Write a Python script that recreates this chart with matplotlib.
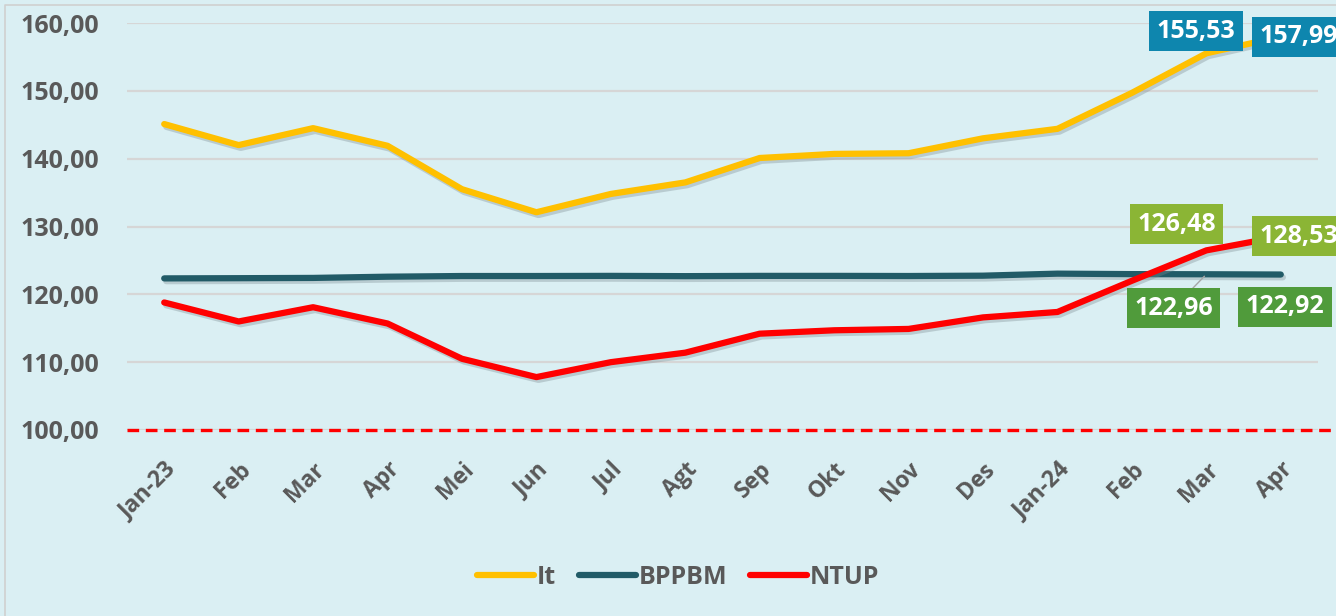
import matplotlib
matplotlib.use("Agg")
import matplotlib.pyplot as plt
import matplotlib.patheffects as pe
from matplotlib.lines import Line2D

months = ["Jan-23", "Feb", "Mar", "Apr", "Mei", "Jun", "Jul", "Agt", "Sep",
          "Okt", "Nov", "Des", "Jan-24", "Feb", "Mar", "Apr"]
it_vals = [145.1, 142.0, 144.5, 141.9, 135.5, 132.1, 134.8, 136.5, 140.1,
           140.7, 140.8, 143.0, 144.4, 149.7, 155.53, 157.99]
bppbm_vals = [122.35, 122.38, 122.42, 122.6, 122.7, 122.7, 122.72, 122.68, 122.72,
              122.72, 122.7, 122.75, 123.05, 122.98, 122.96, 122.92]
ntup_vals = [118.8, 116.0, 118.1, 115.7, 110.5, 107.8, 110.0, 111.4, 114.2,
             114.7, 114.9, 116.6, 117.4, 122.0, 126.48, 128.53]
yticks = [100, 110, 120, 130, 140, 150, 160]

BG = "#DAEFF3"
GRAY = "#595959"
FONT = "Open Sans"

fig = plt.figure(figsize=(13.36, 6.16), dpi=100, facecolor=BG)
ax = fig.add_axes([127/1336, 1-430/616, (1318-127)/1336, (430-23)/616])
ax.set_facecolor(BG)

x = list(range(len(months)))
shadow = [pe.SimpleLineShadow(offset=(1.5, -2), shadow_color="#7a8a90", alpha=0.35), pe.Normal()]
series = [("It", it_vals, "#FFC000"), ("BPPBM", bppbm_vals, "#215B67"), ("NTUP", ntup_vals, "#FF0000")]
for name, vals, col in series:
    ax.plot(x, vals, color=col, lw=4.5, solid_capstyle="round", solid_joinstyle="round",
            path_effects=shadow, zorder=3, clip_on=False)

ax.set_xlim(-0.5, len(months) - 0.5)
ax.set_ylim(100, 160)
ax.set_yticks(yticks)
ax.set_yticklabels([f"{v:.2f}".replace(".", ",") for v in yticks],
                   fontfamily=FONT, fontweight="bold", fontsize=18, color=GRAY)
ax.set_xticks(x)
ax.set_xticklabels(months, rotation=45, ha="right", rotation_mode="anchor",
                   fontfamily=FONT, fontweight="bold", fontsize=16.5, color=GRAY)
ax.tick_params(axis="y", length=0, pad=20)
ax.tick_params(axis="x", length=0, pad=20)
for s in ax.spines.values():
    s.set_visible(False)
ax.grid(axis="y", color="#D6D6D6", lw=1.6, zorder=0)
ax.set_axisbelow(True)
# dashed 100 line
fig.add_artist(Line2D([127/1336, 1.0], [1-430/616, 1-430/616], color="#FF0000",
                      lw=2.4, ls=(0, (3.5, 2.0)), transform=fig.transFigure, zorder=5))

# data labels
def lab(xi, yv, txt, fc, dx, dy, arrow=False):
    kw = {}
    if arrow:
        kw["arrowprops"] = dict(arrowstyle="-", color="#A6A6A6", lw=1, shrinkA=0, shrinkB=2)
    ax.annotate(txt, (xi, yv), xytext=(dx, dy), textcoords="offset pixels",
                ha="center", va="center", fontfamily=FONT, fontweight="bold",
                fontsize=18, color="white", zorder=6, annotation_clip=False,
                bbox=dict(boxstyle="square,pad=0.3", fc=fc, ec="none"), **kw)

fmt = lambda v: f"{v:.2f}".replace(".", ",")
lab(14, it_vals[14], fmt(it_vals[14]), "#0E86AE", -10, 22)
lab(15, it_vals[15], fmt(it_vals[15]), "#0E86AE", 18, 0)
lab(14, ntup_vals[14], fmt(ntup_vals[14]), "#8BB535", -30, 26)
lab(15, ntup_vals[15], fmt(ntup_vals[15]), "#8BB535", 18, 0)
lab(14, bppbm_vals[14], fmt(bppbm_vals[14]), "#509B3B", -33, -34, arrow=True)
lab(15, bppbm_vals[15], fmt(bppbm_vals[15]), "#509B3B", 4, -32)

handles = [Line2D([], [], color=c, lw=4.5, solid_capstyle="round") for _, _, c in series]
leg = fig.legend(handles, [n for n, _, _ in series], loc="center", bbox_to_anchor=(678/1336, 1-577/616),
                 ncol=3, frameon=False, handlelength=2.3, handletextpad=0.1, columnspacing=0.9,
                 prop=dict(family=FONT, weight="bold", size=18))
for t in leg.get_texts():
    t.set_color(GRAY)

# outer border
fig.add_artist(Line2D([5/1336, 5/1336, 1.0], [0, 1-5/616, 1-5/616], color="#D0D0D0", lw=1.2,
                      transform=fig.transFigure))

fig.savefig("out.png", dpi=100, facecolor=BG)
